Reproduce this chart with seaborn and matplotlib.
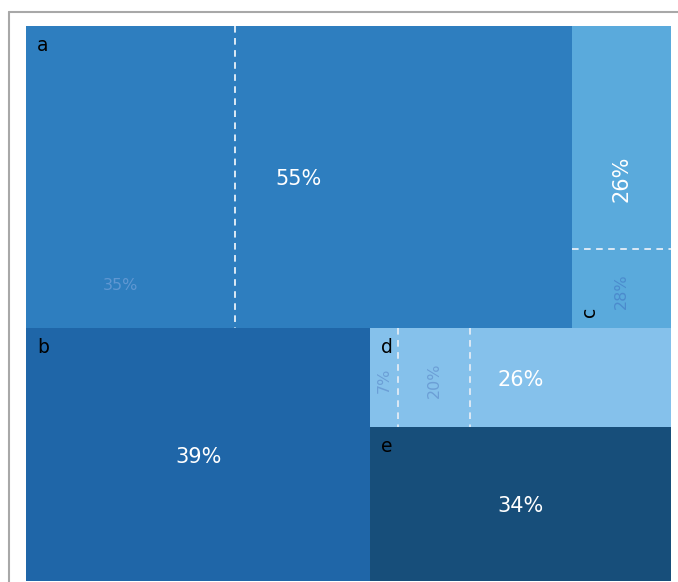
import matplotlib
matplotlib.use("Agg")
import matplotlib.pyplot as plt
import seaborn as sns
from matplotlib.lines import Line2D

# Data
groups = ["a", "b", "c", "d", "e"]
group_size = [46.1, 24.3, 8.4, 8.3, 12.9]

# sub-segments inside each tile (relative size) and their labels (%)
a_parts = [38.3, 61.7]
a_pct = [35, 55]
b_parts = [100]
b_pct = [39]
c_parts = [73.8, 26.2]
c_pct = [26, 28]
d_parts = [9.3, 23.9, 66.8]
d_pct = [7, 20, 26]
e_parts = [100]
e_pct = [34]

parts = {"a": a_parts, "b": b_parts, "c": c_parts, "d": d_parts, "e": e_parts}
pcts = {"a": a_pct, "b": b_pct, "c": c_pct, "d": d_pct, "e": e_pct}

tile_colors = sns.color_palette(["#2e7ebf", "#1f66a8", "#5aaadc", "#85c1eb", "#174e7a"])
faint_colors = {"a": "#5f97d2", "c": "#4b8bcd", "d": "#6c9fd6"}

sns.set_style("white")
plt.rcParams["font.family"] = ["DejaVu Sans"]

fig = plt.figure(figsize=(6.78, 5.82), dpi=100)
ax = fig.add_axes([26 / 678, 1 / 582, 645 / 678, 555 / 582])
W, H = 6.45, 5.55  # axes size in inches, 1 unit = 100 px
ax.set_xlim(0, W)
ax.set_ylim(H, 0)
ax.axis("off")

# layout: top row a | c, bottom row b | (d over e)
size = dict(zip(groups, group_size))
total = sum(group_size)
top_h = H * (size["a"] + size["c"]) / total
a_w = W * size["a"] / (size["a"] + size["c"])
bot_h = H - top_h
b_w = W * size["b"] / (size["b"] + size["d"] + size["e"])
d_h = bot_h * size["d"] / (size["d"] + size["e"])
rects = {
    "a": (0, 0, a_w, top_h),
    "c": (a_w, 0, W - a_w, top_h),
    "b": (0, top_h, b_w, bot_h),
    "d": (b_w, top_h, W - b_w, d_h),
    "e": (b_w, top_h + d_h, W - b_w, bot_h - d_h),
}

px = 0.72  # points per pixel
dash = dict(color="#dce9f5", lw=1.4, linestyle=(0, (3.4, 2.8)))
label_pos = {("a", 0): (0.45, 0.85)}  # small label nudged towards bottom

for g, col in zip(groups, tile_colors):
    x, y, w, h = rects[g]
    ax.bar(x, h, width=w, bottom=y, align="edge", color=col, linewidth=0)
    rot = 90 if h > w else 0
    p = parts[g]
    tot = sum(p)
    big = p.index(max(p))
    pos = 0
    for i, (s, pc) in enumerate(zip(p, pcts[g])):
        if rot == 0:
            sx, sw = x + w * pos / tot, w * s / tot
            sy, sh = y, h
            if i > 0:
                ax.vlines(sx, y, y + h, **dash)
        else:
            sy, sh = y + h * pos / tot, h * s / tot
            sx, sw = x, w
            if i > 0:
                ax.hlines(sy, x, x + w, **dash)
        pos += s
        if i == big:
            ax.text(x + w / 2, y + h / 2 + 0.02, f"{pc}%", color="white", fontsize=15,
                    ha="center", va="center", rotation=rot)
        else:
            fx, fy = label_pos.get((g, i), (0.5, 0.5))
            srot = 90 if sw < 1.0 else 0  # narrow segments get vertical text
            ax.text(sx + sw * fx, sy + sh * fy + 0.02, f"{pc}%", color=faint_colors[g],
                    fontsize=11.5, ha="center", va="center", rotation=srot)
    # tile name
    if rot == 0:
        ax.annotate(g, (x, y), xytext=(11 * px, -25 * px), textcoords="offset points",
                    ha="left", va="baseline", fontsize=13.5, color="black")
    else:
        ax.annotate(g, (x, y + h), xytext=(23 * px, 11 * px), textcoords="offset points",
                    ha="left", va="baseline", rotation=90, rotation_mode="anchor",
                    fontsize=13.5, color="black")

# outer grey frame, cut off by the figure edges
fig.add_artist(Line2D([8.5 / 678, 8.5 / 678], [0, 1 - 12 / 582], color="#a8a8a8", lw=1.5))
fig.add_artist(Line2D([8.5 / 678, 1], [1 - 12 / 582, 1 - 12 / 582], color="#a8a8a8", lw=1.5))

fig.savefig("out.png", dpi=100)
